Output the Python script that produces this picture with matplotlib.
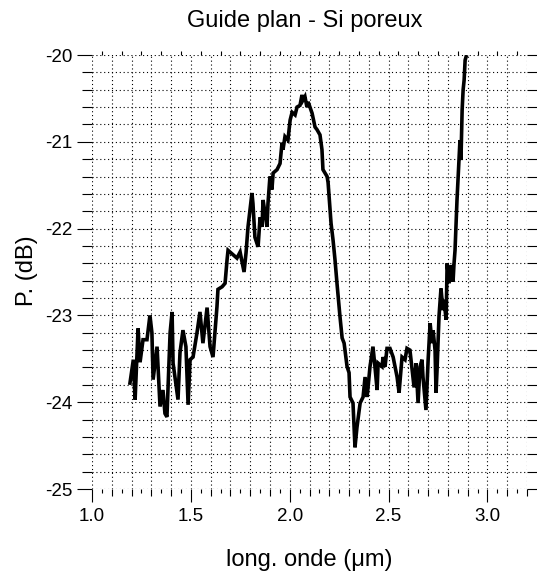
import matplotlib
matplotlib.use("Agg")
import matplotlib.pyplot as plt
from matplotlib.ticker import FixedLocator, NullFormatter
import numpy as np

plt.rcParams['font.family'] = ['Liberation Sans', 'DejaVu Sans']
plt.rcParams['axes.unicode_minus'] = False

title = "Guide plan - Si poreux"
xlabel = "long. onde (\u03bcm)"
ylabel = "P. (dB)"

wavelength = [1.192, 1.209, 1.218, 1.233, 1.243, 1.258, 1.278, 1.293, 1.303, 1.309,
              1.329, 1.344, 1.359, 1.369, 1.379, 1.395, 1.405, 1.410, 1.435, 1.445,
              1.460, 1.475, 1.486, 1.496, 1.511, 1.531, 1.546, 1.561, 1.582, 1.597,
              1.612, 1.632, 1.637, 1.658, 1.673, 1.683, 1.688, 1.713, 1.733, 1.749,
              1.769, 1.779, 1.789, 1.809, 1.814, 1.824, 1.840, 1.850, 1.860, 1.865,
              1.875, 1.885, 1.890, 1.900, 1.910, 1.916, 1.936, 1.951, 1.961, 1.966,
              1.976, 1.991, 2.002, 2.012, 2.027, 2.037, 2.052, 2.062, 2.067, 2.077,
              2.087, 2.093, 2.113, 2.128, 2.138, 2.153, 2.163, 2.168, 2.189, 2.194,
              2.209, 2.219, 2.229, 2.239, 2.254, 2.265, 2.275, 2.290, 2.300, 2.305,
              2.320, 2.330, 2.340, 2.356, 2.371, 2.381, 2.391, 2.396, 2.406, 2.421,
              2.431, 2.442, 2.447, 2.467, 2.472, 2.482, 2.492, 2.507, 2.523, 2.543,
              2.553, 2.568, 2.583, 2.593, 2.608, 2.629, 2.639, 2.649, 2.659, 2.669,
              2.674, 2.689, 2.700, 2.710, 2.720, 2.725, 2.735, 2.740, 2.745, 2.755,
              2.765, 2.775, 2.780, 2.791, 2.796, 2.806, 2.816, 2.826, 2.831, 2.836,
              2.846, 2.856, 2.861, 2.866, 2.872, 2.877, 2.882, 2.887, 2.892]

power_db = [-23.78, -23.51, -23.97, -23.15, -23.54, -23.28, -23.28, -23.00, -23.20, -23.74,
            -23.36, -24.05, -23.86, -24.13, -24.17, -23.20, -22.96, -23.55, -23.97, -23.43,
            -23.17, -23.36, -24.03, -23.51, -23.48, -23.20, -22.96, -23.32, -22.91, -23.36,
            -23.48, -22.90, -22.70, -22.67, -22.63, -22.36, -22.25, -22.30, -22.34, -22.27,
            -22.50, -22.28, -21.98, -21.59, -21.71, -22.10, -22.21, -21.87, -21.98, -21.67,
            -21.82, -21.98, -21.71, -21.40, -21.55, -21.36, -21.32, -21.25, -21.01, -21.09,
            -20.94, -20.98, -20.75, -20.66, -20.69, -20.60, -20.58, -20.46, -20.52, -20.48,
            -20.60, -20.54, -20.67, -20.83, -20.86, -20.92, -21.09, -21.32, -21.40, -21.47,
            -21.94, -22.13, -22.36, -22.63, -23.01, -23.26, -23.32, -23.59, -23.66, -23.94,
            -24.01, -24.52, -24.29, -24.01, -23.94, -23.71, -23.94, -23.83, -23.59, -23.36,
            -23.59, -23.86, -23.55, -23.59, -23.48, -23.59, -23.38, -23.38, -23.48, -23.71,
            -23.89, -23.48, -23.51, -23.38, -23.40, -23.83, -23.55, -24.01, -23.59, -23.51,
            -23.71, -24.09, -23.51, -23.09, -23.32, -23.17, -23.40, -23.89, -23.63, -23.01,
            -22.69, -22.94, -22.82, -23.05, -22.40, -22.63, -22.42, -22.61, -22.40, -22.25,
            -21.67, -21.21, -20.98, -21.21, -20.63, -20.40, -20.29, -20.06, -20.02]

xticks = [1.0, 1.5, 2.0, 2.5, 3.0]
xticklabels = ["1.0", "1.5", "2.0", "2.5", "3.0"]
yticks = [-25, -24, -23, -22, -21, -20]
yticklabels = ["-25", "-24", "-23", "-22", "-21", "-20"]

W, H = 537, 571
fig = plt.figure(figsize=(W / 100, H / 100), dpi=100)
L, R, T, B = 92, 527, 55, 489
ax = fig.add_axes([L / W, 1 - B / H, (R - L) / W, (B - T) / H])

ax.plot(wavelength, power_db, color='black', linewidth=2.6, solid_joinstyle='miter', zorder=3)

ax.set_xlim(1.0, 3.2)
ax.set_ylim(-25, -20)

for s in ax.spines.values():
    s.set_visible(False)

ax.xaxis.set_major_locator(FixedLocator(xticks))
ax.set_xticklabels(xticklabels)
ax.xaxis.set_minor_locator(FixedLocator(np.round(np.arange(1.0, 3.2001, 0.1), 3)))
ax.yaxis.set_major_locator(FixedLocator(yticks))
ax.set_yticklabels(yticklabels)
ax.yaxis.set_minor_locator(FixedLocator(np.round(np.arange(-25, -19.999, 0.2), 3)))

ax.tick_params(axis='x', which='major', direction='out', length=9.5, width=0.8,
               top=True, bottom=True, labelsize=13.5, pad=4)
ax.tick_params(axis='x', which='minor', direction='out', length=5, width=0.8,
               top=True, bottom=True)
ax.tick_params(axis='y', which='major', direction='out', length=11, width=0.8,
               left=True, right=True, labelsize=13.5, pad=3)
ax.tick_params(axis='y', which='minor', direction='out', length=7, width=0.8,
               left=True, right=True)

ax.grid(which='both', color='black', linestyle=(0, (1, 2.5)), linewidth=0.8)
ax.set_axisbelow(True)

# sub-minor ticks at 0.05
ax2 = ax.twiny()
ax2.set_xlim(ax.get_xlim())
for s in ax2.spines.values():
    s.set_visible(False)
ax2.xaxis.set_major_locator(FixedLocator(np.round(np.arange(1.05, 3.2, 0.1), 3)))
ax2.xaxis.set_major_formatter(NullFormatter())
ax2.tick_params(axis='x', which='major', direction='out', length=2.8, width=0.8,
                top=True, bottom=True, labeltop=False, labelbottom=False)

fig.text(305 / W, 1 - 27 / H, title, ha='center', va='baseline', fontsize=17)
fig.text(309.5 / W, 1 - 566 / H, xlabel, ha='center', va='baseline', fontsize=17)
fig.text(27 / W, 1 - 271 / H, ylabel, ha='center', va='center', rotation=90, fontsize=17)

fig.savefig("out.png", dpi=100)
